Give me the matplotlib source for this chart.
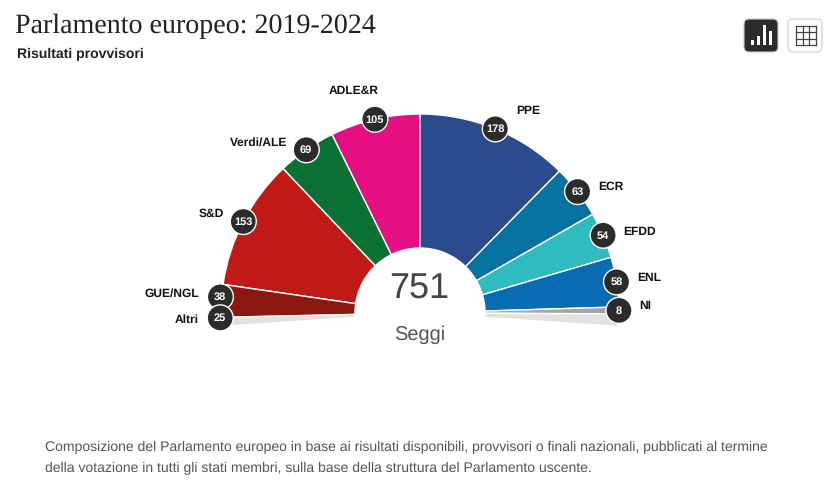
"""Emiciclo del Parlamento europeo 2019-2024."""

import math

import matplotlib

matplotlib.use("Agg")
import matplotlib.pyplot as plt
from matplotlib.patches import Circle, FancyBboxPatch, Rectangle, Wedge

WIDTH, HEIGHT = 835, 487

# seats, going outwards from the top of the hemicycle
left_groups = ["ADLE&R", "Verdi/ALE", "S&D", "GUE/NGL"]
left_seats = [105, 69, 153, 38]
left_colors = ["#e50f83", "#0a7033", "#c01916", "#8b1710"]

right_groups = ["PPE", "ECR", "EFDD", "ENL", "NI"]
right_seats = [178, 63, 54, 58, 8]
right_colors = ["#2c4a8e", "#0572a0", "#2fbcc0", "#0a6bb5", "#a5a5a5"]

other_group = "Altri"
other_seats = 25
other_color = "#e5e2dd"
total_seats = 751

subtitle = "Risultati provvisori"
title = "Parlamento europeo: 2019-2024"
note_lines = [
    "Composizione del Parlamento europeo in base ai risultati disponibili, provvisori o finali nazionali, pubblicati al termine",
    "della votazione in tutti gli stati membri, sulla base della struttura del Parlamento uscente.",
]

CX, CY = 420, 313
R_OUT, R_IN = 199, 65
DEG_PER_SEAT = 0.25
BADGE_R = 13

# label anchors in pixels: x, y, horizontal alignment
label_pos = {
    "ADLE&R": (354, 91, "center"),
    "Verdi/ALE": (287, 143, "right"),
    "S&D": (224, 214, "right"),
    "GUE/NGL": (199, 294, "right"),
    "Altri": (199, 320, "right"),
    "PPE": (528, 111, "center"),
    "ECR": (598, 187, "left"),
    "EFDD": (623, 231.5, "left"),
    "ENL": (637, 277.5, "left"),
    "NI": (639, 306, "left"),
}
# badges that are pushed apart so they do not collide
badge_nudge = {"GUE/NGL": (-1, -4), "Altri": (-1, -4)}

plt.rcParams["font.family"] = ["Liberation Sans", "DejaVu Sans"]
plt.rcParams["text.hinting"] = "no_hinting"
plt.rcParams["text.hinting_factor"] = 1


def fy(py):
    return HEIGHT - py


def pt(px):
    return px * 0.72


def draw_wedge(ax, a, b, color):
    lo, hi = min(a, b), max(a, b)
    ax.add_patch(
        Wedge((CX, fy(CY)), R_OUT, lo, hi, width=R_OUT - R_IN, facecolor=color, edgecolor="white", linewidth=1.0)
    )


def draw_badge(ax, name, seats, angle):
    dx, dy = badge_nudge.get(name, (0, 0))
    x = CX + R_OUT * math.cos(math.radians(angle)) + dx
    y = fy(CY) + R_OUT * math.sin(math.radians(angle)) - dy
    ax.add_patch(Circle((x, y), BADGE_R, facecolor="#2b2b2b", edgecolor="white", linewidth=1.0, zorder=5))
    ax.text(x, y - 0.5, str(seats), color="white", fontsize=pt(11.5), fontweight="bold", ha="center", va="center", zorder=6)


def draw_icons(ax):
    ax.add_patch(
        FancyBboxPatch((744, fy(52)), 34, 33, boxstyle="round,pad=0,rounding_size=5", facecolor="#2b2b2b", edgecolor="#cccccc", linewidth=0.8)
    )
    for x, top in zip([751, 757, 763, 769], [40, 36, 25, 31]):
        ax.add_patch(Rectangle((x, fy(45)), 3, 45 - top, facecolor="white", edgecolor="none"))
    ax.add_patch(
        FancyBboxPatch((788, fy(52)), 34, 33, boxstyle="round,pad=0,rounding_size=5", facecolor="white", edgecolor="#d8d8d8", linewidth=1.0)
    )
    for i in range(4):
        x = 796 + i * 6.5
        y = 25.5 + i * 6.5
        ax.plot([x, x], [fy(25.5), fy(45)], color="#444444", linewidth=0.9)
        ax.plot([796, 815.5], [fy(y), fy(y)], color="#444444", linewidth=0.9)


def main():
    fig = plt.figure(figsize=(WIDTH / 100, HEIGHT / 100), dpi=100, facecolor="white")
    ax = fig.add_axes([0, 0, 1, 1])
    ax.set_xlim(0, WIDTH)
    ax.set_ylim(0, HEIGHT)
    ax.axis("off")

    half_span = total_seats * DEG_PER_SEAT / 2
    badges = []

    angle = 90.0
    for name, seats, color in zip(left_groups, left_seats, left_colors):
        end = angle + seats * DEG_PER_SEAT
        draw_wedge(ax, angle, end, color)
        badges.append((name, seats, (angle + end) / 2))
        angle = end
    left_end = 90 + half_span
    draw_wedge(ax, angle, left_end, other_color)
    badges.append((other_group, other_seats, (angle + left_end) / 2))

    angle = 90.0
    for name, seats, color in zip(right_groups, right_seats, right_colors):
        end = angle - seats * DEG_PER_SEAT
        draw_wedge(ax, angle, end, color)
        badges.append((name, seats, (angle + end) / 2))
        angle = end
    draw_wedge(ax, angle, 90 - half_span, other_color)

    for name, seats, mid in badges:
        draw_badge(ax, name, seats, mid)
        x, y, ha = label_pos[name]
        ax.text(x, fy(y), name, fontsize=pt(12), fontweight="bold", color="#111111", ha=ha, va="center")

    ax.text(419, fy(289), str(total_seats), fontsize=pt(36), color="#444444", ha="center", va="center")
    ax.text(420, fy(335), "Seggi", fontsize=pt(20), color="#555555", ha="center", va="center")

    ax.text(15, fy(26), title, fontsize=pt(27.9), family="Liberation Serif", color="#222222", ha="left", va="center")
    ax.text(17, fy(54), subtitle, fontsize=pt(14), fontweight="bold", color="#222222", ha="left", va="center")
    for line, y in zip(note_lines, [447, 468]):
        ax.text(45, fy(y), line, fontsize=pt(14), color="#555555", ha="left", va="center")

    draw_icons(ax)
    fig.savefig("out.png", dpi=100)
    plt.close(fig)


if __name__ == "__main__":
    main()
